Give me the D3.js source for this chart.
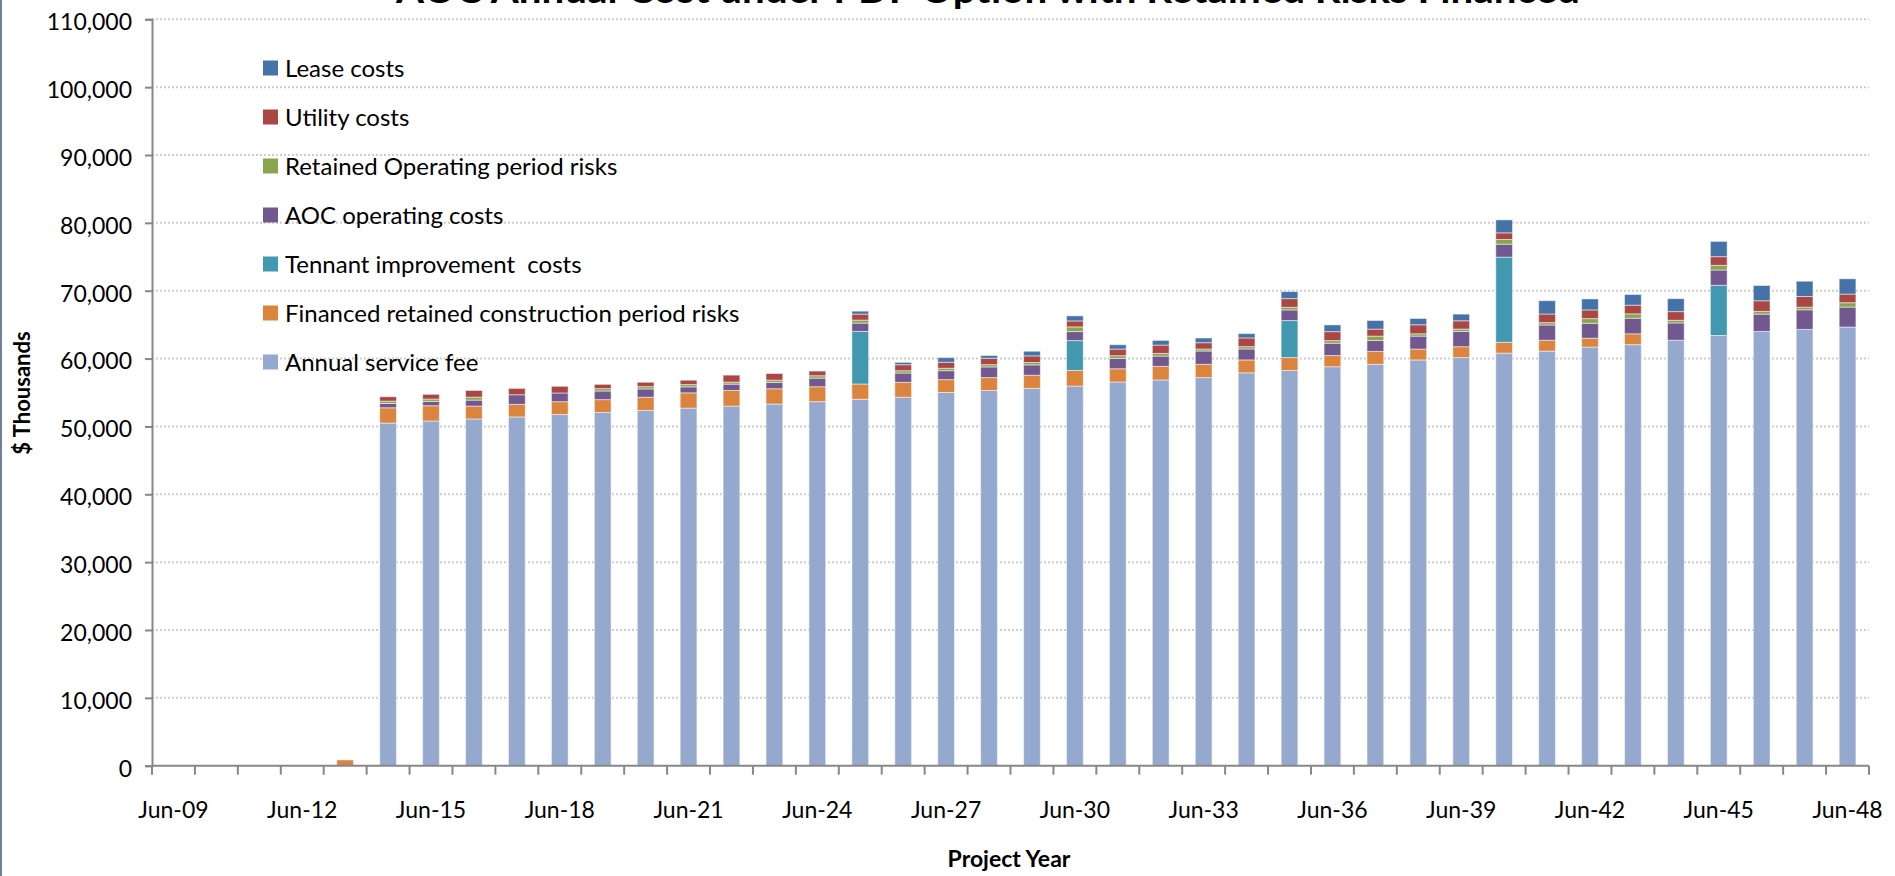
<!DOCTYPE html>
<html>
<head>
<meta charset="utf-8">
<script src="https://cdn.jsdelivr.net/npm/d3@7"></script>
<style>
  html, body { margin: 0; padding: 0; background: #fff; overflow: hidden; }
  svg { display: block; }
  text { font-family: Lato, "Open Sans", sans-serif; fill: #000; }
</style>
</head>
<body>
<svg id="chart" width="1895" height="876"></svg>
<script>
// Project years (one bar per year)
const categories = [
  "Jun-09","Jun-10","Jun-11","Jun-12","Jun-13","Jun-14","Jun-15","Jun-16","Jun-17","Jun-18",
  "Jun-19","Jun-20","Jun-21","Jun-22","Jun-23","Jun-24","Jun-25","Jun-26","Jun-27","Jun-28",
  "Jun-29","Jun-30","Jun-31","Jun-32","Jun-33","Jun-34","Jun-35","Jun-36","Jun-37","Jun-38",
  "Jun-39","Jun-40","Jun-41","Jun-42","Jun-43","Jun-44","Jun-45","Jun-46","Jun-47","Jun-48"
];

// Year labels shown under the axis
const tickLabels = ["Jun-09","Jun-12","Jun-15","Jun-18","Jun-21","Jun-24","Jun-27",
                    "Jun-30","Jun-33","Jun-36","Jun-39","Jun-42","Jun-45","Jun-48"];

// Value axis ticks ($ thousands)
const yTicks = [0,10000,20000,30000,40000,50000,60000,70000,80000,90000,100000,110000];

// Cost components, $ thousands per year
const annualServiceFee = [
  0,0,0,0,0,50500,50800,51100,51400,51750,
  52050,52350,52700,53000,53300,53650,54000,54300,55000,55300,
  55600,55950,56550,56850,57200,57900,58250,58800,59150,59800,
  60150,60800,61100,61700,62050,62700,63400,64000,64300,64650
];
const financedConstructionRisks = [
  0,0,0,0,850,2250,2250,1900,1850,1900,
  1900,1950,2250,2300,2250,2200,2250,2200,1900,1900,
  1950,2300,1950,2000,1950,1900,1900,1650,1900,1600,
  1600,1600,1600,1300,1600,0,0,0,0,0
];
const tenantImprovement = [
  0,0,0,0,0,0,0,0,0,0,
  0,0,0,0,0,0,7750,0,0,0,
  0,4400,0,0,0,0,5450,0,0,0,
  0,12550,0,0,0,0,7400,0,0,0
];
const aocOperating = [
  0,0,0,0,0,630,640,880,1420,1280,
  1270,1230,880,930,930,1270,1230,1370,1320,1570,
  1520,1330,1520,1520,1960,1620,1570,1810,1620,1910,
  2250,1910,2250,2200,2300,2550,2250,2550,2890,2940
];
const retainedOperatingRisks = [
  0,0,0,0,0,350,350,440,0,0,
  350,340,340,300,340,350,440,340,350,340,
  350,690,400,390,300,340,390,390,640,340,
  350,690,350,690,640,390,690,400,390,640
];
const utilityCosts = [
  0,0,0,0,0,640,690,980,935,980,
  630,640,640,1030,980,690,880,880,890,940,
  980,880,980,1230,930,1280,1280,1320,1030,1330,
  1220,980,1270,1280,1280,1280,1280,1570,1570,1270
];
const leaseCosts = [
  0,0,0,0,0,0,0,0,0,0,
  0,0,0,0,0,0,440,350,680,400,
  680,740,640,690,690,640,1030,990,1270,930,
  980,1910,1960,1620,1570,1910,2250,2250,2250,2260
];

// Series, stacked from the bottom up
const series = [
  { key: "Annual service fee", values: annualServiceFee, color: "#95A9CF" },
  { key: "Financed retained construction period risks", values: financedConstructionRisks, color: "#DB843D" },
  { key: "Tennant improvement  costs", values: tenantImprovement, color: "#4298AF" },
  { key: "AOC operating costs", values: aocOperating, color: "#71588F" },
  { key: "Retained Operating period risks", values: retainedOperatingRisks, color: "#89A54E" },
  { key: "Utility costs", values: utilityCosts, color: "#AA4643" },
  { key: "Lease costs", values: leaseCosts, color: "#4572A7" }
];

const table = categories.map((c, i) => {
  const row = { year: c };
  series.forEach(s => { row[s.key] = s.values[i]; });
  return row;
});

const svg = d3.select("#chart");

const plot = { left: 152, right: 1869, top: 19.3, bottom: 765.7 };

const x = d3.scaleBand()
  .domain(categories)
  .range([plot.left, plot.right])
  .paddingInner(0.61)
  .paddingOuter(0.305);

const y = d3.scaleLinear()
  .domain([0, 110000])
  .range([plot.bottom, plot.top]);

// frame edge on the left
svg.append("line")
  .attr("x1", 1).attr("x2", 1).attr("y1", 0).attr("y2", 876)
  .attr("stroke", "#6f7f9c").attr("stroke-width", 2);

// dotted gridlines
svg.append("g")
  .selectAll("line")
  .data(yTicks.filter(t => t > 0))
  .join("line")
  .attr("x1", plot.left).attr("x2", plot.right)
  .attr("y1", d => y(d)).attr("y2", d => y(d))
  .attr("stroke", "#cdcdcd")
  .attr("stroke-width", 2)
  .attr("stroke-dasharray", "2,2");

// title (runs off the top edge of the frame)
svg.append("text")
  .attr("x", 988).attr("y", 3)
  .attr("text-anchor", "middle")
  .attr("font-weight", "bold")
  .attr("font-size", 38)
  .attr("textLength", 1184)
  .attr("lengthAdjust", "spacingAndGlyphs")
  .text("AOC Annual Cost under PDF Option with Retained Risks Financed");

// stacked bars
const stacked = d3.stack().keys(series.map(s => s.key))(table);
const colorOf = new Map(series.map(s => [s.key, s.color]));

svg.append("g")
  .selectAll("g")
  .data(stacked)
  .join("g")
  .attr("fill", d => colorOf.get(d.key))
  .selectAll("rect")
  .data(d => d.filter(p => p[1] - p[0] > 0))
  .join("rect")
  .attr("x", d => x(d.data.year))
  .attr("width", x.bandwidth())
  .attr("y", d => y(d[1]))
  .attr("height", d => y(d[0]) - y(d[1]))
  .attr("stroke", "rgba(255,255,255,0.5)")
  .attr("stroke-width", 1);

// y axis
const yAxis = d3.axisLeft(y)
  .tickValues(yTicks)
  .tickSize(7)
  .tickPadding(13)
  .tickFormat(d3.format(","));

const gy = svg.append("g")
  .attr("transform", `translate(${plot.left},0)`)
  .call(yAxis);
gy.select(".domain").attr("stroke", "#878787").attr("stroke-width", 2);
gy.selectAll(".tick line").attr("stroke", "#878787").attr("stroke-width", 2);
gy.selectAll(".tick text")
  .attr("font-family", "Lato, sans-serif")
  .attr("font-size", 23)
  .attr("fill", "#000")
  .attr("dy", "0.45em");

// x axis: tick marks on band boundaries, labels every third year
const gx = svg.append("g").attr("transform", `translate(0,${plot.bottom})`);
gx.append("line")
  .attr("x1", plot.left).attr("x2", plot.right)
  .attr("stroke", "#878787").attr("stroke-width", 2);
const boundaries = categories.map(c => x(c) - x.step() * x.paddingInner() / 2)
  .concat([plot.right]);
gx.selectAll("line.tick")
  .data(boundaries)
  .join("line")
  .attr("class", "tick")
  .attr("x1", d => d).attr("x2", d => d)
  .attr("y1", 0).attr("y2", 9)
  .attr("stroke", "#878787").attr("stroke-width", 2);
gx.selectAll("text")
  .data(tickLabels)
  .join("text")
  .attr("x", d => x(d) + x.bandwidth() / 2)
  .attr("y", 52)
  .attr("text-anchor", "middle")
  .attr("font-size", 23)
  .text(d => d);

// axis titles
svg.append("text")
  .attr("transform", "translate(30,393) rotate(-90)")
  .attr("text-anchor", "middle")
  .attr("font-weight", "bold")
  .attr("font-size", 22)
  .text("$ Thousands");

svg.append("text")
  .attr("x", 1009).attr("y", 867)
  .attr("text-anchor", "middle")
  .attr("font-weight", "bold")
  .attr("font-size", 23)
  .text("Project Year");

// legend, top entry first
const legend = svg.append("g")
  .selectAll("g")
  .data(series.slice().reverse())
  .join("g")
  .attr("transform", (d, i) => `translate(263,${68 + i * 49})`);
legend.append("rect")
  .attr("x", 0).attr("y", -7.5)
  .attr("width", 15).attr("height", 15)
  .attr("fill", d => d.color);
legend.append("text")
  .attr("x", 22).attr("y", 0)
  .attr("dy", "0.36em")
  .attr("font-size", 24)
  .style("white-space", "pre")
  .text(d => d.key);
</script>
</body>
</html>
